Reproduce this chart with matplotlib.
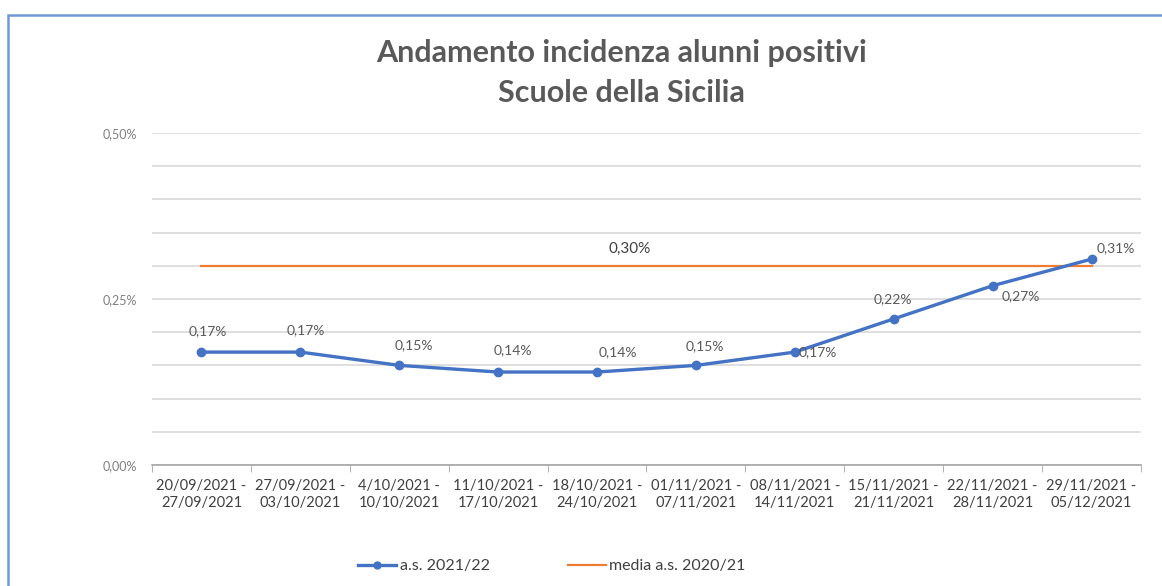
import matplotlib.pyplot as plt
import numpy as np
from matplotlib.lines import Line2D
from matplotlib.ticker import FixedLocator, MultipleLocator

plt.rcParams['font.family'] = ['Lato', 'DejaVu Sans']

# weekly periods
periods = [
    "20/09/2021 -\n27/09/2021",
    "27/09/2021 -\n03/10/2021",
    "4/10/2021 -\n10/10/2021",
    "11/10/2021 -\n17/10/2021",
    "18/10/2021 -\n24/10/2021",
    "01/11/2021 -\n07/11/2021",
    "08/11/2021 -\n14/11/2021",
    "15/11/2021 -\n21/11/2021",
    "22/11/2021 -\n28/11/2021",
    "29/11/2021 -\n05/12/2021",
]
incidenza_2122 = [0.17, 0.17, 0.15, 0.14, 0.14, 0.15, 0.17, 0.22, 0.27, 0.31]
media_2021 = 0.30

blue = '#4472c4'
orange = '#ed7d31'
grey_txt = '#595959'


def pct(v):
    return f"{v:.2f}%".replace('.', ',')


fig = plt.figure(figsize=(11.62, 5.86), dpi=100)
ax = fig.add_axes([0.1308, 0.2065, 0.8511, 0.5666])

x = np.arange(len(periods))
ax.plot(x, [media_2021] * len(x), color=orange, lw=1.6, zorder=2)
ax.plot(x, incidenza_2122, color=blue, lw=2.4, marker='o', ms=6, zorder=3)

# label offsets in pixels, as placed in the original
offsets = [(6, 21), (5, 22), (15, 20), (15, 22), (21, 20),
           (9, 19), (23, 0), (-1, 20), (28, -10), (24, 11)]
for xi, v, off in zip(x, incidenza_2122, offsets):
    ax.annotate(pct(v), (xi, v), xytext=off, textcoords='offset pixels',
                ha='center', va='center', fontsize=10, color=grey_txt, zorder=4)
ax.annotate(pct(media_2021), (4.33, media_2021), xytext=(0, 17),
            textcoords='offset pixels', ha='center', va='center',
            fontsize=11, color='#404040')

ax.set_xlim(-0.5, len(periods) - 0.5)
ax.set_ylim(0, 0.5)
ax.yaxis.set_major_locator(FixedLocator([0, 0.25, 0.5]))
ax.yaxis.set_minor_locator(MultipleLocator(0.05))
ax.set_yticklabels([pct(v) for v in [0, 0.25, 0.5]])
ax.grid(axis='y', which='both', color='#d9d9d9', lw=1.2, zorder=0)
ax.tick_params(axis='y', which='both', length=0, labelsize=9, labelcolor='#7f7f7f', pad=11)

ax.set_xticks(x)
ax.set_xticklabels(periods, fontsize=10.5, color='#404040', linespacing=1.25)
ax.set_xticks(np.arange(-0.5, len(periods)), minor=True)
ax.tick_params(axis='x', which='major', length=0, pad=10)
ax.tick_params(axis='x', which='minor', length=5, color='#a6a6a6', direction='out')

for s in ['top', 'right', 'left']:
    ax.spines[s].set_visible(False)
ax.spines['bottom'].set_color('#a6a6a6')
ax.spines['bottom'].set_linewidth(1.2)
ax.set_axisbelow(True)

fig.text(0.535, 0.9096, "Andamento incidenza alunni positivi", ha='center', va='center',
         fontsize=22, fontweight='bold', color=grey_txt)
fig.text(0.535, 0.841, "Scuole della Sicilia", ha='center', va='center',
         fontsize=22, fontweight='bold', color=grey_txt)

handles = [Line2D([], [], color=blue, lw=2.4, marker='o', ms=5),
           Line2D([], [], color=orange, lw=1.6)]
fig.legend(handles, ['a.s. 2021/22', 'media a.s. 2020/21'], loc='center',
           bbox_to_anchor=(0.475, 0.034), ncol=2, frameon=False, fontsize=11.5,
           handlelength=2.4, handletextpad=0.2, columnspacing=4.9, labelcolor='#404040')

border = plt.Rectangle((8 / 1162, -0.05), 1.2, 0.974 + 0.05, transform=fig.transFigure,
                       fill=False, edgecolor='#6f9ad6', lw=1.8, clip_on=False)
fig.patches.append(border)

fig.savefig('out.png', dpi=100)
